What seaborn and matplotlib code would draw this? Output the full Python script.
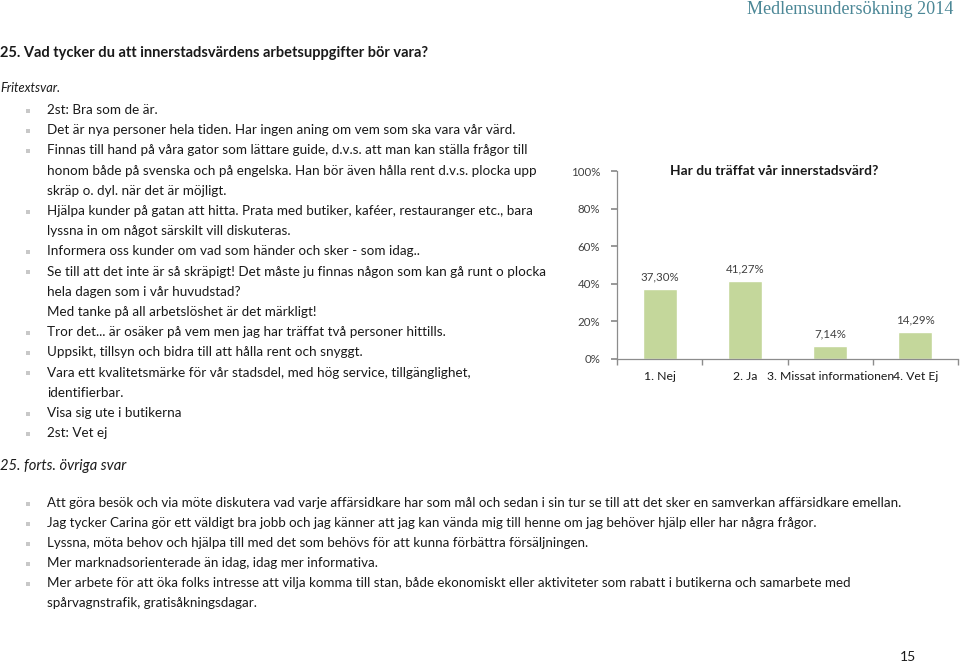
"""
Medlemsundersökning 2014 - fråga 25, sida 15
"""
import matplotlib
matplotlib.use("Agg")
import matplotlib.pyplot as plt
import seaborn as sns
import pandas as pd
from matplotlib.lines import Line2D

sns.set_theme(style="white")
plt.rcParams["font.family"] = ["Lato", "DejaVu Sans"]

# Data för diagrammet
categories = ["1. Nej", "2. Ja", "3. Missat informationen", "4. Vet Ej"]
values = [0.3730, 0.4127, 0.0714, 0.1429]
y_ticks = [0, 0.2, 0.4, 0.6, 0.8, 1.0]
y_tick_labels = ["0%", "20%", "40%", "60%", "80%", "100%"]
chart_title = "Har du träffat vår innerstadsvärd?"

# Sidans texter: (text, har punkt)
answers = [
    ("2st: Bra som de är.", True),
    ("Det är nya personer hela tiden. Har ingen aning om vem som ska vara vår värd.", True),
    ("Finnas till hand på våra gator som lättare guide, d.v.s. att man kan ställa frågor till", True),
    ("honom både på svenska och på engelska. Han bör även hålla rent d.v.s. plocka upp", False),
    ("skräp o. dyl. när det är möjligt.", False),
    ("Hjälpa kunder på gatan att hitta. Prata med butiker, kaféer, restauranger etc., bara", True),
    ("lyssna in om något särskilt vill diskuteras.", False),
    ("Informera oss kunder om vad som händer och sker - som idag..", True),
    ("Se till att det inte är så skräpigt! Det måste ju finnas någon som kan gå runt o plocka", True),
    ("hela dagen som i vår huvudstad?", False),
    ("Med tanke på all arbetslöshet är det märkligt!", False),
    ("Tror det... är osäker på vem men jag har träffat två personer hittills.", True),
    ("Uppsikt, tillsyn och bidra till att hålla rent och snyggt.", True),
    ("Vara ett kvalitetsmärke för vår stadsdel, med hög service, tillgänglighet,", True),
    ("identifierbar.", False),
    ("Visa sig ute i butikerna", True),
    ("2st: Vet ej", True),
]
other_answers = [
    ("Att göra besök och via möte diskutera vad varje affärsidkare har som mål och sedan i sin tur se till att det sker en samverkan affärsidkare emellan.", True),
    ("Jag tycker Carina gör ett väldigt bra jobb och jag känner att jag kan vända mig till henne om jag behöver hjälp eller har några frågor.", True),
    ("Lyssna, möta behov och hjälpa till med det som behövs för att kunna förbättra försäljningen.", True),
    ("Mer marknadsorienterade än idag, idag mer informativa.", True),
    ("Mer arbete för att öka folks intresse att vilja komma till stan, både ekonomiskt eller aktiviteter som rabatt i butikerna och samarbete med", True),
    ("spårvagnstrafik, gratisåkningsdagar.", False),
]

W, H = 960, 664
TEXT_COLOR = "#1a1a1a"
BULLET_COLOR = "#c8c8c8"


def fy(py):
    return 1 - py / H


def fx(px):
    return px / W


fig = plt.figure(figsize=(W / 100, H / 100), dpi=100)
fig.patch.set_facecolor("white")

# Sidhuvud
fig.text(fx(953), fy(9), "Medlemsundersökning 2014", ha="right", va="center",
         fontsize=13.1, color="#4b8796", family=["Liberation Serif", "DejaVu Serif"])

fig.text(0, fy(53), "25. Vad tycker du att innerstadsvärdens arbetsuppgifter bör vara?",
         ha="left", va="center", fontsize=10.5, fontweight="bold", color=TEXT_COLOR)
fig.text(0, fy(88), "Fritextsvar.", ha="left", va="center", fontsize=9.2,
         style="italic", color=TEXT_COLOR)


def bullet_block(lines, y0, step, size):
    for i, (txt, has_bullet) in enumerate(lines):
        y = y0 + i * step
        fig.text(fx(47), fy(y), txt, ha="left", va="center", fontsize=size, color=TEXT_COLOR)
        if has_bullet:
            fig.add_artist(Line2D([fx(28)], [fy(y + 0.5)], marker="s", ms=2.2, mew=0,
                                  color=BULLET_COLOR, transform=fig.transFigure))


bullet_block(answers, 110, 20.2, 9.7)

fig.text(0, fy(466), "25. forts. övriga svar", ha="left", va="center", fontsize=10.6,
         style="italic", color=TEXT_COLOR)
bullet_block(other_answers, 503, 20.0, 9.6)

fig.text(fx(908), fy(657), "15", ha="center", va="center", fontsize=10, color=TEXT_COLOR)

# Stapeldiagram
ax = fig.add_axes([fx(617), fy(359), fx(958) - fx(617), fy(171) - fy(359)])
df = pd.DataFrame({"Svar": categories, "Andel": values})
sns.barplot(data=df, x="Svar", y="Andel", color="#c4d79b", saturation=1, width=0.4, ax=ax)

ax.set_xlim(-0.5, len(categories) - 0.5)
ax.set_ylim(0, 1)
ax.set_yticks(y_ticks)
ax.set_yticklabels(y_tick_labels)
ax.set_xlabel("")
ax.set_ylabel("")
ax.set_facecolor("white")

for s in ["top", "right"]:
    ax.spines[s].set_visible(False)
for s in ["left", "bottom"]:
    ax.spines[s].set_color("#8c8c8c")
    ax.spines[s].set_linewidth(0.9)

ax.set_xticks([i - 0.5 for i in range(len(categories) + 1)], minor=True)
ax.tick_params(axis="x", which="major", length=0, pad=9, labelsize=8.8, labelcolor=TEXT_COLOR)
ax.tick_params(axis="x", which="minor", length=4, color="#8c8c8c", direction="out", bottom=True)
ax.tick_params(axis="y", length=4, color="#8c8c8c", direction="out", left=True, pad=8,
               labelsize=8.3, labelcolor="#404040")

for i, v in enumerate(values):
    label = f"{v * 100:.2f}".replace(".", ",") + "%"
    ax.text(i, v + 0.035, label, ha="center", va="bottom", fontsize=8.3, color="#404040")

ax.text(0.46, 1.0, chart_title, transform=ax.transAxes, ha="center", va="center",
        fontsize=9.9, fontweight="bold", color=TEXT_COLOR)

fig.savefig("out.png", dpi=100, facecolor="white")
